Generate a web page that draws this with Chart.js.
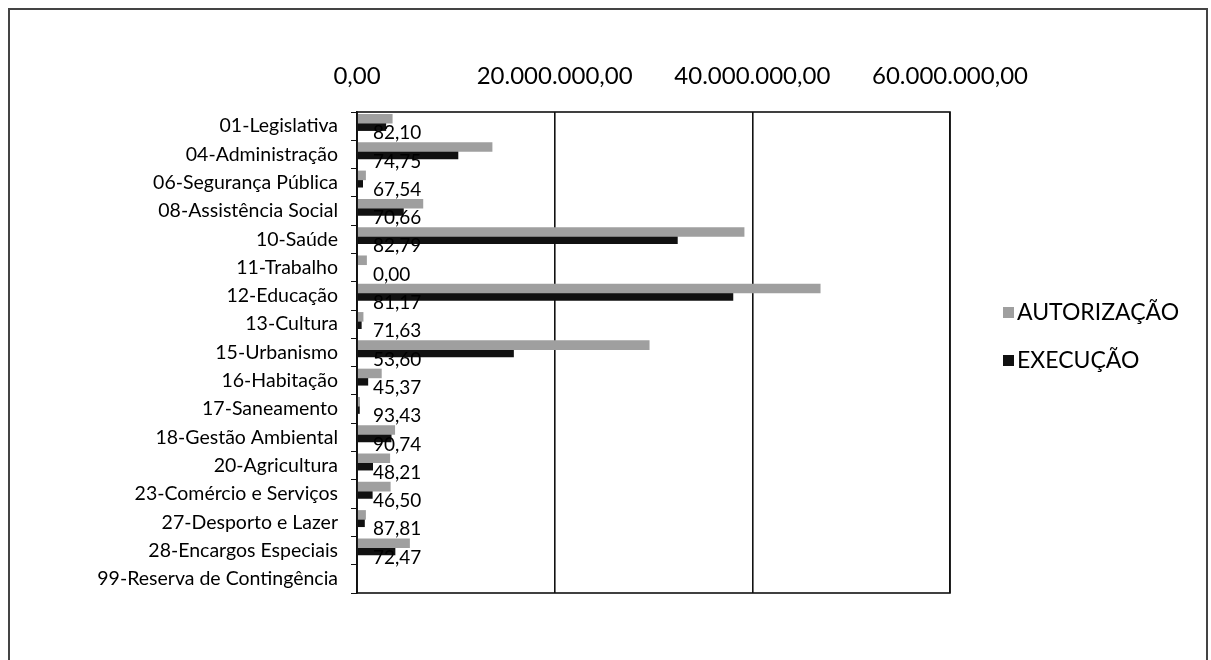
<!DOCTYPE html>
<html>
<head>
<meta charset="utf-8">
<script src="https://cdn.jsdelivr.net/npm/chart.js@4.4.0/dist/chart.umd.min.js"></script>
<style>
  html, body { margin: 0; padding: 0; background: #fff; width: 1211px; height: 660px; overflow: hidden; }
  #frame { position: absolute; left: 8px; top: 8px; width: 1200px; height: 700px; border: 2px solid #444; box-sizing: border-box; }
  #wrap { position: absolute; left: 0; top: 0; width: 1211px; height: 660px; }
</style>
</head>
<body>
<div id="frame"></div>
<div id="wrap"><canvas id="c" width="1211" height="660"></canvas></div>
<script>
const categorias = [
  "01-Legislativa", "04-Administração", "06-Segurança Pública", "08-Assistência Social",
  "10-Saúde", "11-Trabalho", "12-Educação", "13-Cultura", "15-Urbanismo", "16-Habitação",
  "17-Saneamento", "18-Gestão Ambiental", "20-Agricultura", "23-Comércio e Serviços",
  "27-Desporto e Lazer", "28-Encargos Especiais", "99-Reserva de Contingência"
];
const autorizacao = [3600000, 13700000, 900000, 6700000, 39200000, 1000000, 46900000, 650000,
  29600000, 2500000, 300000, 3850000, 3350000, 3400000, 900000, 5350000, 0];
const execucao = [2950000, 10250000, 610000, 4730000, 32450000, 0, 38070000, 470000,
  15870000, 1130000, 280000, 3490000, 1620000, 1580000, 790000, 3880000, 0];
const percentuais = ["82,10", "74,75", "67,54", "70,66", "82,79", "0,00", "81,17", "71,63",
  "53,60", "45,37", "93,43", "90,74", "48,21", "46,50", "87,81", "72,47", ""];
const ticksX = [0, 20000000, 40000000, 60000000];
const nomesSeries = ["AUTORIZAÇÃO", "EXECUÇÃO"];

function fmtBR(v) {
  const parts = Math.round(v).toString().replace(/\B(?=(\d{3})+(?!\d))/g, ".");
  return parts + ",00";
}

const FONT = "Lato";
const PLOT_LEFT = 357, PLOT_TOP = 112;

const labelsPlugin = {
  id: 'pctLabels',
  afterDatasetsDraw(chart) {
    const ctx = chart.ctx;
    const xs = chart.scales.x, ys = chart.scales.y;
    ctx.save();
    ctx.font = "19px " + FONT;
    ctx.fillStyle = "#000";
    ctx.textAlign = "left";
    ctx.textBaseline = "middle";
    percentuais.forEach((t, i) => {
      if (!t) return;
      ctx.fillText(t, xs.getPixelForValue(0) + 16, ys.getPixelForValue(i) + 7);
    });
    // plot border
    const a = chart.chartArea;
    ctx.strokeStyle = "#111";
    ctx.lineWidth = 1.6;
    ctx.strokeRect(a.left, a.top, a.right - a.left, a.bottom - a.top);
    // legend
    const cols = ["#9f9f9f", "#111"];
    const ys2 = [312, 360];
    ctx.font = "23px " + FONT;
    nomesSeries.forEach((n, k) => {
      ctx.fillStyle = cols[k];
      ctx.fillRect(1003, ys2[k] - 5, 11, 11);
      ctx.fillStyle = "#000";
      ctx.fillText(n, 1017, ys2[k] + 1);
    });
    ctx.restore();
  }
};

new Chart(document.getElementById('c'), {
  type: 'bar',
  data: {
    labels: categorias,
    datasets: [
      { label: nomesSeries[0], data: autorizacao, backgroundColor: "#9f9f9f", categoryPercentage: 0.78, barPercentage: 1.3 },
      { label: nomesSeries[1], data: execucao, backgroundColor: "#111111", categoryPercentage: 0.78, barPercentage: 1.3 },
      { label: "", data: categorias.map(() => null), backgroundColor: "rgba(0,0,0,0)", categoryPercentage: 0.78, barPercentage: 1.3 }
    ]
  },
  options: {
    indexAxis: 'y',
    responsive: false,
    animation: false,
    devicePixelRatio: 1,
    layout: { padding: { left: 10, top: 10, right: 261, bottom: 67 } },
    plugins: {
      legend: { display: false },
      tooltip: { enabled: false }
    },
    scales: {
      x: {
        position: 'top',
        min: 0, max: 60000000,
        afterBuildTicks(s) { s.ticks = ticksX.map(v => ({ value: v })); },
        afterFit(s) { s.height = PLOT_TOP - 10; },
        ticks: { callback: v => fmtBR(v), color: "#000", font: { family: FONT, size: 24 }, padding: 21, maxRotation: 0 },
        grid: { color: "#111", lineWidth: 1.6, drawTicks: false },
        border: { display: false }
      },
      y: {
        afterFit(s) { s.width = PLOT_LEFT - 10; },
        ticks: { color: "#000", font: { family: FONT, size: 19.5 }, padding: 13, autoSkip: false },
        grid: { drawOnChartArea: false, drawTicks: true, tickLength: 6, color: "#111", offset: true },
        border: { display: true, color: "#111", width: 1.6 }
      }
    }
  },
  plugins: [labelsPlugin]
});
</script>
</body>
</html>
